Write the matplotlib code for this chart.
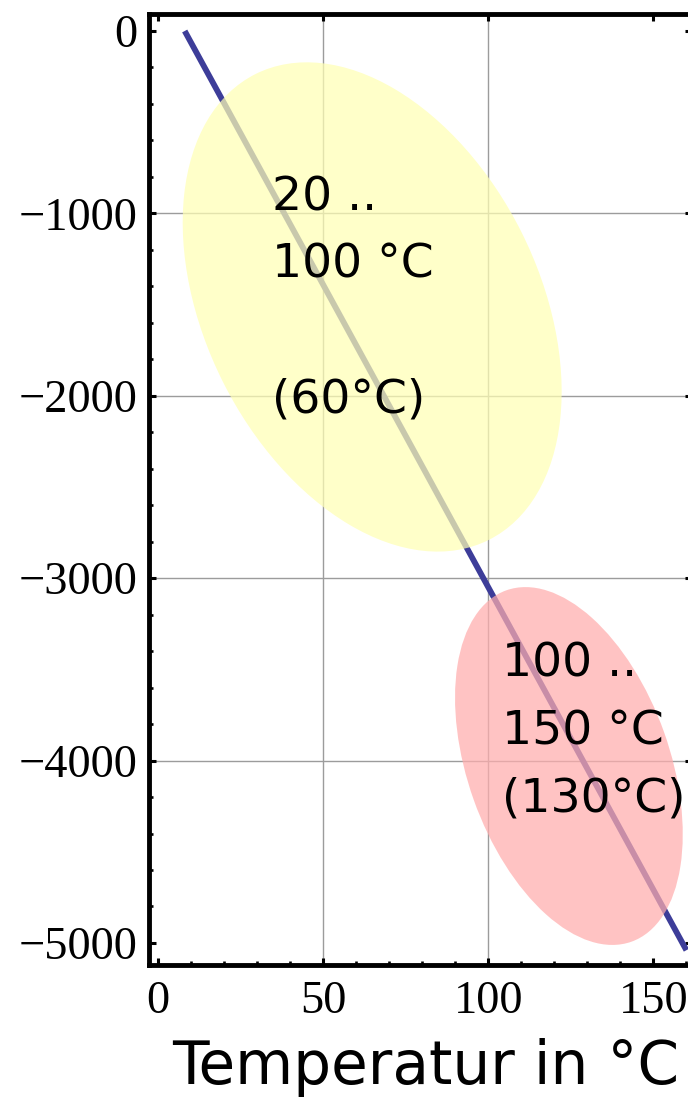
import matplotlib.pyplot as plt
from matplotlib.patches import Ellipse
from matplotlib.transforms import ScaledTranslation
from matplotlib.ticker import MultipleLocator

plt.rcParams['font.family'] = 'Liberation Serif'

# straight line, temperature in °C against value
temp = [8, 160]
value = [0, -5040]

# the two temperature ranges: centre, label anchor, text
range_t = [64.8, 124.4]
range_v = [-1513, -4030]
label_t = [34.4, 104]
label_v = [-792, -3349]
range_text = ["20 ..\n100 °C\n\n(60°C)", "100 ..\n150 °C\n(130°C)"]

grid_x = [50, 100]
grid_y = [-1000, -2000, -3000, -4000]

fig = plt.figure(figsize=(6.88, 10.98), dpi=100)
ax = fig.add_axes([148.6 / 688, 133 / 1098, 543.4 / 688, 951.5 / 1098])
ax.set_xlim(-2.94, 161.7)
ax.set_ylim(-5121, 96)

for gx in grid_x:
    ax.axvline(gx, color='#9c9c9c', lw=1.0, zorder=0.5)
for gy in grid_y:
    ax.axhline(gy, color='#9c9c9c', lw=1.0, zorder=0.5)

ax.plot(temp, value, color=(0.24, 0.24, 0.6), lw=4.2, solid_capstyle='butt', zorder=2)

# ellipse sizes in inches, tilted on screen
sizes = [(5.21, 3.34, -63.4), (3.73, 2.02, -70.4)]
fills = ['#ffffb4', '#ffadad']
for cx, cy, (w, h, ang), fc in zip(range_t, range_v, sizes, fills):
    tr = fig.dpi_scale_trans + ScaledTranslation(cx, cy, ax.transData)
    e = Ellipse((0, 0), w, h, angle=ang, transform=tr, facecolor=fc,
                edgecolor='none', alpha=0.72, zorder=3)
    ax.add_patch(e)
    e.set_clip_path(ax.patch)

for tx, ty, s in zip(label_t, label_v, range_text):
    ax.text(tx, ty, s, family='DejaVu Sans', fontsize=34, va='top', ha='left',
            linespacing=1.64, zorder=4)

ax.xaxis.set_major_locator(MultipleLocator(50))
ax.xaxis.set_minor_locator(MultipleLocator(10))
ax.yaxis.set_major_locator(MultipleLocator(1000))
ax.yaxis.set_minor_locator(MultipleLocator(200))

for sp in ax.spines.values():
    sp.set_linewidth(3.5)
ax.tick_params(which='both', direction='in', top=True, right=True, labelsize=33.5)
ax.tick_params(which='major', length=5, width=2.2)
ax.tick_params(which='minor', length=3.2, width=1.9, top=False)
ax.tick_params(axis='x', pad=11)
ax.tick_params(axis='y', pad=8)

ax.set_xlabel('Temperatur in °C', family='DejaVu Sans', fontsize=43)
ax.xaxis.set_label_coords(0.51, -0.077)

fig.savefig('out.png', dpi=100)
